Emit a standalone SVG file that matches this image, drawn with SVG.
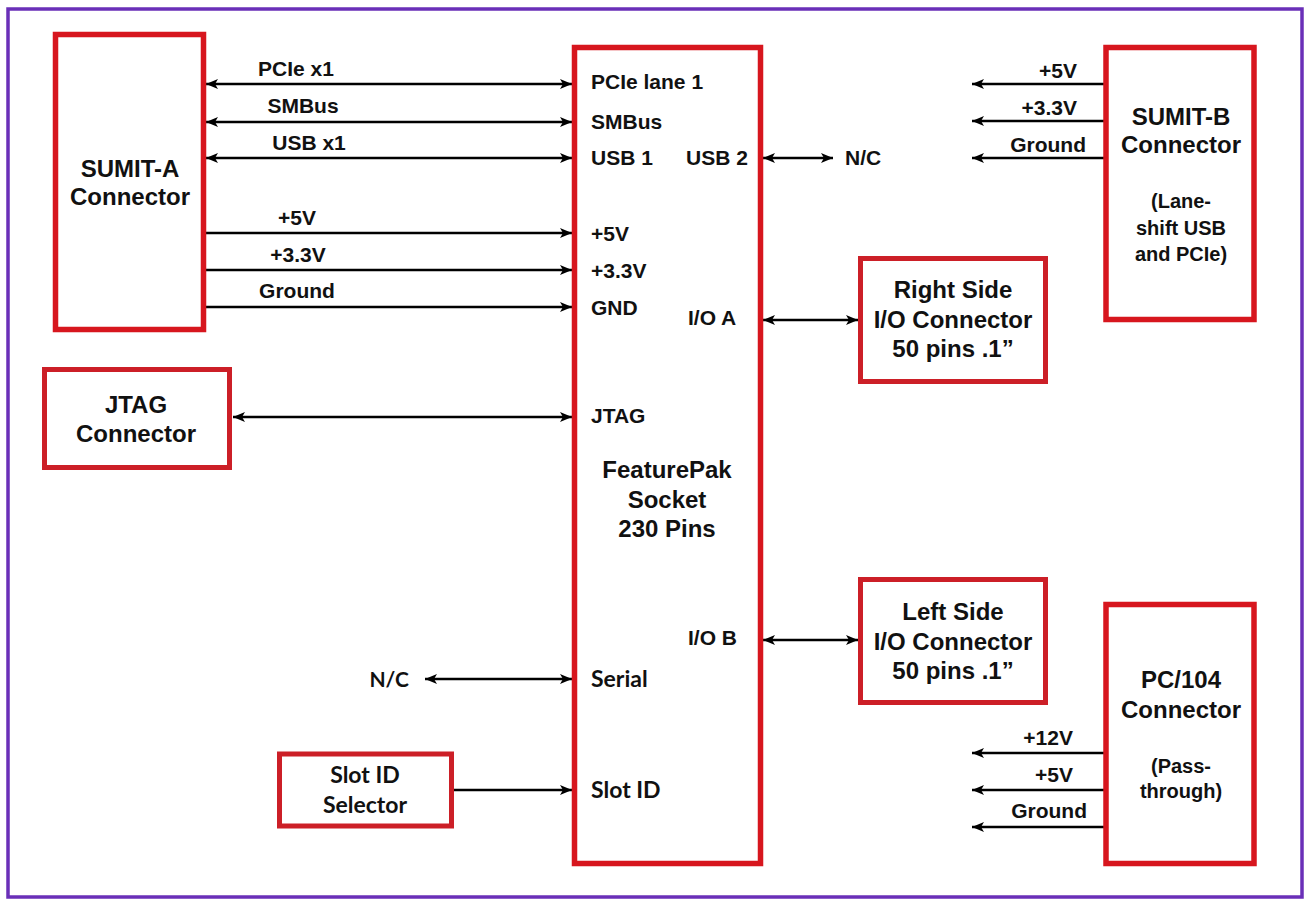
<svg xmlns="http://www.w3.org/2000/svg" width="1305" height="900" viewBox="0 0 1305 900">
<style>
.frame{fill:none;stroke:#6a2fb8;stroke-width:3.5}
.box{fill:#fff;stroke:#d7161e;stroke-width:5.5}
.box2{fill:#fff;stroke:#cc1f27;stroke-width:5}
.t{font-family:"Liberation Sans",Arial,sans-serif;font-weight:bold;fill:#111}
.title{font-size:24px;text-anchor:middle}
.sub{font-size:20px;text-anchor:middle}
.lbl{font-size:21px}
.pin{font-size:21px}
.c{font-family:Lato,"Open Sans",sans-serif;font-weight:bold;fill:#111}
.cl{font-size:23px}
.mid{text-anchor:middle}
.end{text-anchor:end}
.w{fill:none;stroke:#000;stroke-width:2.5}
.a1{marker-end:url(#ah)}
.a2{marker-start:url(#ah);marker-end:url(#ah)}
</style>
<defs>
<marker id="ah" viewBox="0 0 12 10" refX="12" refY="5" markerWidth="12" markerHeight="10" markerUnits="userSpaceOnUse" orient="auto-start-reverse">
<path d="M0,0 L12,5 L0,10 L3,5 z" fill="#000"/>
</marker>
</defs>
<rect x="0" y="0" width="1305" height="900" fill="#fff"/>
<rect class="frame" x="8" y="9" width="1294" height="888"/>

<g id="connectors">
<line class="w a2" x1="206" y1="84" x2="572" y2="84"/>
<line class="w a2" x1="206" y1="122" x2="572" y2="122"/>
<line class="w a2" x1="206" y1="158" x2="572" y2="158"/>
<line class="w a1" x1="204" y1="233" x2="572" y2="233"/>
<line class="w a1" x1="204" y1="270" x2="572" y2="270"/>
<line class="w a1" x1="204" y1="307" x2="572" y2="307"/>
<line class="w a2" x1="233" y1="417" x2="572" y2="417"/>
<line class="w a2" x1="425" y1="679" x2="572" y2="679"/>
<line class="w a1" x1="453" y1="790" x2="572" y2="790"/>
<line class="w a2" x1="763" y1="158" x2="833" y2="158"/>
<line class="w a2" x1="763" y1="320" x2="858" y2="320"/>
<line class="w a2" x1="763" y1="640" x2="858" y2="640"/>
<line class="w a1" x1="1105" y1="84" x2="972" y2="84"/>
<line class="w a1" x1="1105" y1="121" x2="972" y2="121"/>
<line class="w a1" x1="1105" y1="158" x2="972" y2="158"/>
<line class="w a1" x1="1105" y1="753" x2="972" y2="753"/>
<line class="w a1" x1="1105" y1="790" x2="972" y2="790"/>
<line class="w a1" x1="1105" y1="827" x2="972" y2="827"/>
<text class="t lbl mid" x="296" y="76">PCIe x1</text>
<text class="t lbl mid" x="303" y="113">SMBus</text>
<text class="t lbl mid" x="309" y="150">USB x1</text>
<text class="t lbl mid" x="297" y="225">+5V</text>
<text class="t lbl mid" x="298" y="262">+3.3V</text>
<text class="t lbl mid" x="297" y="298">Ground</text>
<text class="t lbl end" x="1077" y="78">+5V</text>
<text class="t lbl end" x="1077" y="115">+3.3V</text>
<text class="t lbl end" x="1086" y="152">Ground</text>
<text class="t lbl end" x="1073" y="745">+12V</text>
<text class="t lbl end" x="1073" y="782">+5V</text>
<text class="t lbl end" x="1087" y="818">Ground</text>
<text class="t lbl" x="845" y="165">N/C</text>
<text class="c lbl end" x="409" y="687">N/C</text>
</g>

<g id="sumit-a">
<rect class="box" x="55.5" y="34.5" width="148" height="295"/>
<text class="t title" x="130" y="177">SUMIT-A</text>
<text class="t title" x="130" y="205">Connector</text>
</g>

<g id="jtag">
<rect class="box2" x="44.5" y="369.5" width="185" height="98"/>
<text class="t title" x="136" y="413">JTAG</text>
<text class="t title" x="136" y="442">Connector</text>
</g>

<g id="slot-id-selector">
<rect class="box2" x="279.5" y="754" width="172" height="72"/>
<text class="c cl mid" x="365" y="783">Slot ID</text>
<text class="c cl mid" x="365" y="813">Selector</text>
</g>

<g id="featurepak">
<rect class="box" x="574.5" y="47.5" width="186" height="816"/>
<text class="t pin" x="591" y="89">PCIe lane 1</text>
<text class="t pin" x="591" y="129">SMBus</text>
<text class="t pin" x="591" y="165">USB 1</text>
<text class="t pin" x="686" y="165">USB 2</text>
<text class="t pin" x="591" y="241">+5V</text>
<text class="t pin" x="591" y="278">+3.3V</text>
<text class="t pin" x="591" y="315">GND</text>
<text class="t pin" x="688" y="325">I/O A</text>
<text class="t pin" x="591" y="423">JTAG</text>
<text class="t title" x="667" y="478">FeaturePak</text>
<text class="t title" x="667" y="508">Socket</text>
<text class="t title" x="667" y="537">230 Pins</text>
<text class="t pin" x="688" y="645">I/O B</text>
<text class="c cl" x="591" y="687">Serial</text>
<text class="c cl" x="591" y="798">Slot ID</text>
</g>

<g id="right-side-io">
<rect class="box2" x="860.5" y="258.5" width="185" height="123"/>
<text class="t title" x="953" y="298">Right Side</text>
<text class="t title" x="953" y="328">I/O Connector</text>
<text class="t title" x="953" y="357">50 pins .1”</text>
</g>

<g id="left-side-io">
<rect class="box2" x="860.5" y="579.5" width="185" height="123"/>
<text class="t title" x="953" y="620">Left Side</text>
<text class="t title" x="953" y="650">I/O Connector</text>
<text class="t title" x="953" y="679">50 pins .1”</text>
</g>

<g id="sumit-b">
<rect class="box" x="1106" y="47.5" width="148" height="272"/>
<text class="t title" x="1181" y="125">SUMIT-B</text>
<text class="t title" x="1181" y="153">Connector</text>
<text class="t sub" x="1181" y="208">(Lane-</text>
<text class="t sub" x="1181" y="235">shift USB</text>
<text class="t sub" x="1181" y="261">and PCIe)</text>
</g>

<g id="pc104">
<rect class="box" x="1106" y="604.5" width="148" height="259"/>
<text class="t title" x="1181" y="688">PC/104</text>
<text class="t title" x="1181" y="718">Connector</text>
<text class="t sub" x="1181" y="773">(Pass-</text>
<text class="t sub" x="1181" y="798">through)</text>
</g>
</svg>
